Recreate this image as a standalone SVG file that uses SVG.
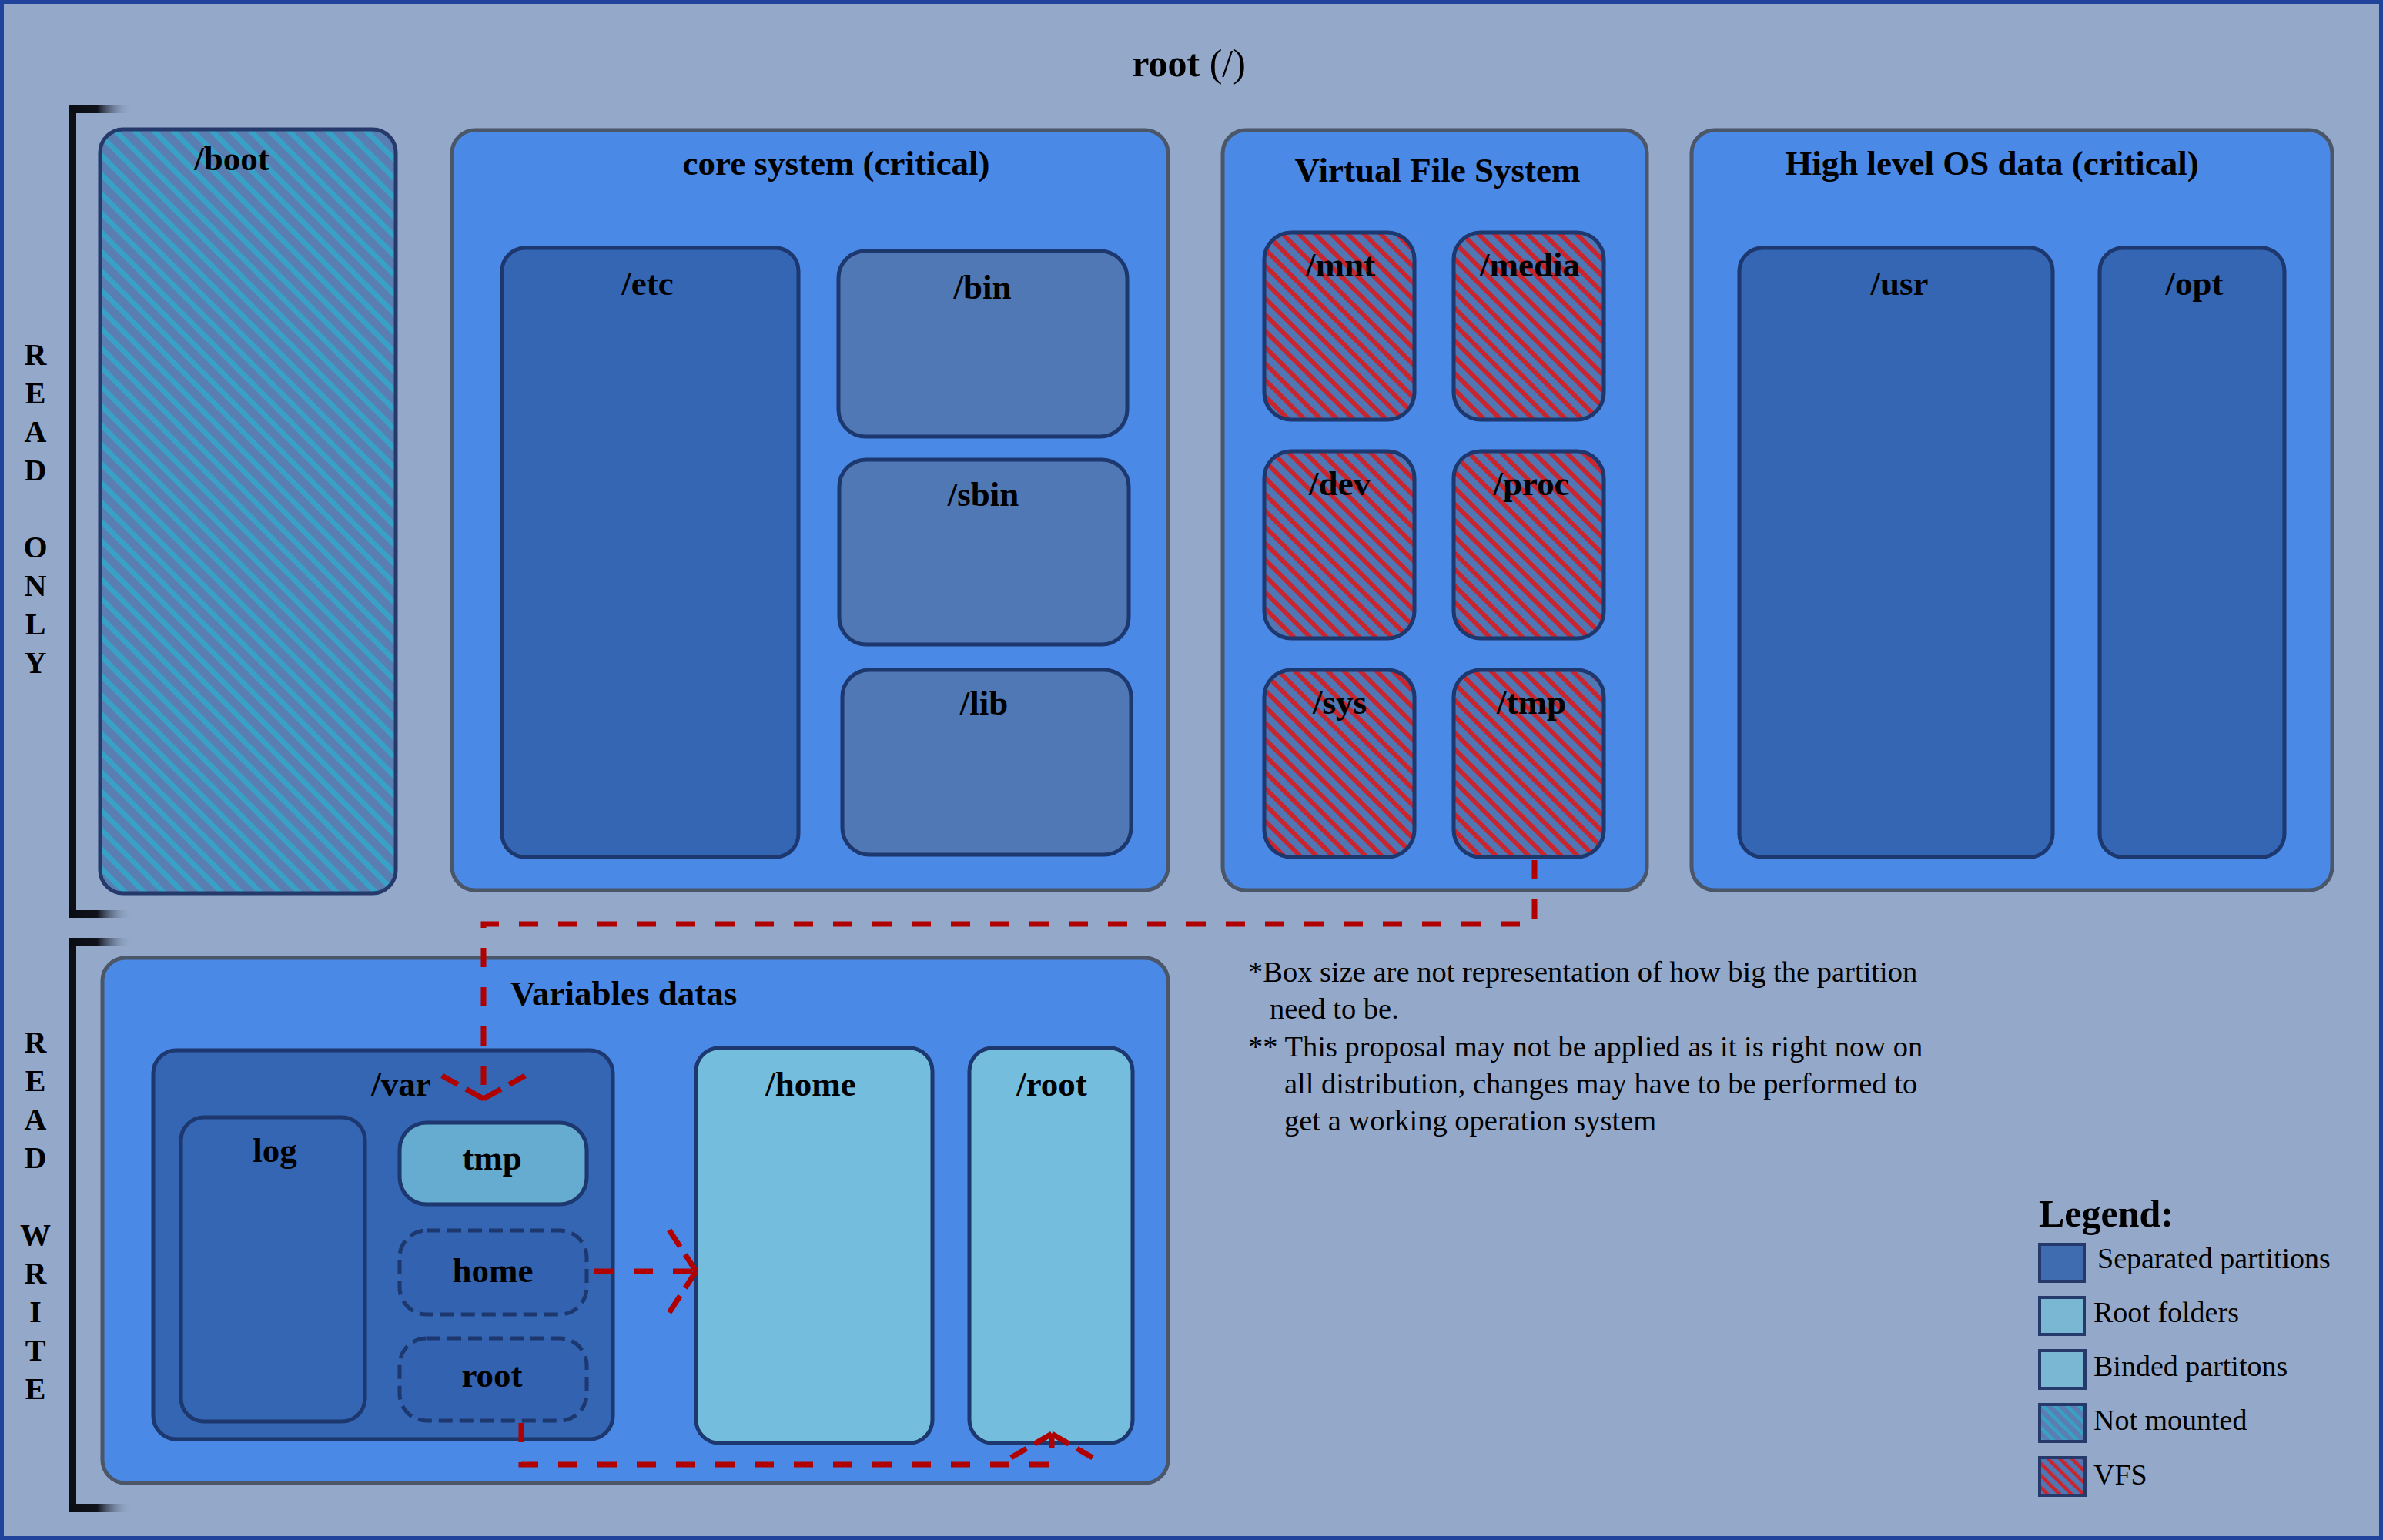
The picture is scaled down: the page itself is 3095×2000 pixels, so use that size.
<svg xmlns="http://www.w3.org/2000/svg" width="3095" height="2000" viewBox="0 0 3095 2000">
<defs>
<style>
.lbl{font-family:"Liberation Serif","Times New Roman",serif;font-weight:bold;font-size:45px;fill:#000;text-anchor:middle}
.note{font-family:"Liberation Serif","Times New Roman",serif;font-size:38.5px;fill:#000}
.leg{font-family:"Liberation Serif","Times New Roman",serif;font-size:38px;fill:#000}
.side{font-family:"Liberation Serif","Times New Roman",serif;font-weight:bold;font-size:40px;fill:#000;text-anchor:middle}
.group{fill:#4a89e6;stroke:#4b5668;stroke-width:5}
.part{fill:#3566b4;stroke:#1d376f;stroke-width:5}
.bin{fill:#5078b5;stroke:#1d376f;stroke-width:5}
.light{fill:#74bddd;stroke:#1d376f;stroke-width:5}
.vfs{fill:url(#vfsHatch);stroke:#1d376f;stroke-width:5}
.boot{fill:url(#bootHatch);stroke:#253a6a;stroke-width:5}
.bind{fill:#3363b0;stroke:#1d376f;stroke-width:5;stroke-dasharray:18 9}
.link{fill:none;stroke:#b00000;stroke-width:7;stroke-dasharray:25 26}
.wing{fill:none;stroke:#b00000;stroke-width:7;stroke-dasharray:26 12}
.sw{stroke:#253a6a;stroke-width:4}
</style>
<pattern id="vfsHatch" patternUnits="userSpaceOnUse" width="15" height="15" patternTransform="rotate(-45)">
<rect width="15" height="15" fill="#5077b4"/>
<rect width="6" height="15" fill="#c8252e"/>
</pattern>
<pattern id="bootHatch" patternUnits="userSpaceOnUse" width="17.7" height="17.7" patternTransform="rotate(-45)">
<rect width="17.7" height="17.7" fill="#5a7db2"/>
<rect width="7" height="17.7" fill="#38a1c5"/>
</pattern>
<pattern id="vfsHatchS" patternUnits="userSpaceOnUse" width="11" height="11" patternTransform="rotate(-45)">
<rect width="11" height="11" fill="#5077b4"/>
<rect width="4.5" height="11" fill="#c8252e"/>
</pattern>
<pattern id="bootHatchS" patternUnits="userSpaceOnUse" width="11" height="11" patternTransform="rotate(-45)">
<rect width="11" height="11" fill="#5a7db2"/>
<rect width="4.5" height="11" fill="#38a1c5"/>
</pattern>
<linearGradient id="fade" x1="0" y1="0" x2="1" y2="0">
<stop offset="0" stop-color="#0a0c12" stop-opacity="1"/>
<stop offset="0.45" stop-color="#10131c" stop-opacity="1"/>
<stop offset="1" stop-color="#94a9ca" stop-opacity="0"/>
</linearGradient>
</defs>

<rect id="background" x="0" y="0" width="3095" height="2000" fill="#94a9ca" stroke="#21439b" stroke-width="10"/>

<text id="title" x="1544" y="99" font-family="Liberation Serif, Times New Roman, serif" font-size="50" text-anchor="middle" fill="#000"><tspan font-weight="bold">root </tspan><tspan>(/)</tspan></text>

<g id="read-only">
<rect x="89" y="137" width="10" height="1055" fill="#0d0f15"/>
<rect x="89" y="137" width="83" height="10" fill="url(#fade)"/>
<rect x="89" y="1182" width="83" height="10" fill="url(#fade)"/>
<text class="side"><tspan x="46" y="474">R</tspan><tspan x="46" y="524">E</tspan><tspan x="46" y="574">A</tspan><tspan x="46" y="624">D</tspan><tspan x="46" y="724">O</tspan><tspan x="46" y="774">N</tspan><tspan x="46" y="824">L</tspan><tspan x="46" y="874">Y</tspan></text>
</g>

<g id="read-write">
<rect x="89" y="1218" width="10" height="745" fill="#0d0f15"/>
<rect x="89" y="1218" width="83" height="10" fill="url(#fade)"/>
<rect x="89" y="1953" width="83" height="10" fill="url(#fade)"/>
<text class="side"><tspan x="46" y="1367">R</tspan><tspan x="46" y="1417">E</tspan><tspan x="46" y="1467">A</tspan><tspan x="46" y="1517">D</tspan><tspan x="46" y="1617">W</tspan><tspan x="46" y="1667">R</tspan><tspan x="46" y="1717">I</tspan><tspan x="46" y="1767">T</tspan><tspan x="46" y="1817">E</tspan></text>
</g>

<g id="boot">
<rect class="boot" x="130" y="168" width="384" height="992" rx="30"/>
<text class="lbl" x="301" y="221">/boot</text>
</g>

<g id="core-system">
<rect class="group" x="587" y="169" width="930" height="987" rx="30"/>
<text class="lbl" x="1086" y="227">core system (critical)</text>
</g>
<g id="etc">
<rect class="part" x="652" y="322" width="385" height="791" rx="30"/>
<text class="lbl" x="841" y="383">/etc</text>
</g>
<g id="bin">
<rect class="bin" x="1089" y="326" width="375" height="241" rx="35"/>
<text class="lbl" x="1276" y="388">/bin</text>
</g>
<g id="sbin">
<rect class="bin" x="1090" y="597" width="376" height="240" rx="35"/>
<text class="lbl" x="1277" y="657">/sbin</text>
</g>
<g id="lib">
<rect class="bin" x="1094" y="870" width="375" height="240" rx="35"/>
<text class="lbl" x="1278" y="928">/lib</text>
</g>

<g id="vfs">
<rect class="group" x="1588" y="169" width="551" height="987" rx="30"/>
<text class="lbl" x="1867" y="236">Virtual File System</text>
</g>
<g id="mnt">
<rect class="vfs" x="1642" y="302" width="195" height="243" rx="35"/>
<text class="lbl" x="1741" y="359">/mnt</text>
</g>
<g id="media">
<rect class="vfs" x="1888" y="302" width="195" height="243" rx="35"/>
<text class="lbl" x="1987" y="359">/media</text>
</g>
<g id="dev">
<rect class="vfs" x="1642" y="586" width="195" height="243" rx="35"/>
<text class="lbl" x="1740" y="643">/dev</text>
</g>
<g id="proc">
<rect class="vfs" x="1888" y="586" width="195" height="243" rx="35"/>
<text class="lbl" x="1989" y="643">/proc</text>
</g>
<g id="sys">
<rect class="vfs" x="1642" y="870" width="195" height="243" rx="35"/>
<text class="lbl" x="1740" y="927">/sys</text>
</g>
<g id="tmp">
<rect class="vfs" x="1888" y="870" width="195" height="243" rx="35"/>
<text class="lbl" x="1989" y="927">/tmp</text>
</g>

<g id="high-level">
<rect class="group" x="2197" y="169" width="832" height="987" rx="30"/>
<text class="lbl" x="2587" y="227">High level OS data (critical)</text>
</g>
<g id="usr">
<rect class="part" x="2259" y="322" width="407" height="791" rx="30"/>
<text class="lbl" x="2467" y="383">/usr</text>
</g>
<g id="opt">
<rect class="part" x="2727" y="322" width="240" height="791" rx="30"/>
<text class="lbl" x="2850" y="383">/opt</text>
</g>

<g id="variables">
<rect class="group" x="133" y="1244" width="1384" height="682" rx="30"/>
<text class="lbl" x="810" y="1305">Variables datas</text>
</g>
<g id="var">
<rect class="part" x="199" y="1364" width="597" height="505" rx="30"/>
<text class="lbl" x="521" y="1423">/var</text>
</g>
<g id="var-log">
<rect class="part" x="235" y="1451" width="239" height="395" rx="30"/>
<text class="lbl" x="357" y="1509">log</text>
</g>
<g id="var-tmp">
<rect x="519" y="1458" width="243" height="106" rx="35" fill="#66abd0" stroke="#1d376f" stroke-width="5"/>
<text class="lbl" x="639" y="1519">tmp</text>
</g>
<g id="var-home">
<rect class="bind" x="519" y="1598" width="243" height="109" rx="35"/>
<text class="lbl" x="640" y="1665">home</text>
</g>
<g id="var-root">
<rect class="bind" x="519" y="1738" width="243" height="107" rx="35"/>
<text class="lbl" x="639" y="1801">root</text>
</g>
<g id="home">
<rect class="light" x="904" y="1361" width="307" height="513" rx="30"/>
<text class="lbl" x="1053" y="1423">/home</text>
</g>
<g id="root-home">
<rect class="light" x="1259" y="1361" width="212" height="513" rx="30"/>
<text class="lbl" x="1366" y="1423">/root</text>
</g>

<g id="connectors">
<path class="link" d="M1993,1117 V1200 H628 V1427"/>
<path class="wing" d="M628,1427 L574,1397 M628,1427 L682,1397"/>
<path class="link" d="M772,1651 H904"/>
<path class="wing" d="M904,1651 L869,1597 M904,1651 L869,1705"/>
<path class="link" d="M677,1848 V1902 H1366 V1862"/>
<path class="wing" d="M1366,1862 L1313,1893 M1366,1862 L1419,1893"/>
</g>

<g id="notes">
<text class="note" x="1621" y="1275">*Box size are not representation of how big the partition</text>
<text class="note" x="1649" y="1323">need to be.</text>
<text class="note" x="1621" y="1372">** This proposal may not be applied as it is right now on</text>
<text class="note" x="1668" y="1420">all distribution, changes may have to be performed to</text>
<text class="note" x="1668" y="1468">get a working operation system</text>
</g>

<g id="legend">
<text x="2648" y="1593" font-family="Liberation Serif, Times New Roman, serif" font-weight="bold" font-size="50" fill="#000">Legend:</text>
<rect class="sw" x="2649" y="1616" width="58" height="48" fill="#3f6bb1"/>
<text class="leg" x="2724" y="1647">Separated partitions</text>
<rect class="sw" x="2649" y="1685" width="58" height="48" fill="#7ab7d3"/>
<text class="leg" x="2719" y="1717">Root folders</text>
<rect class="sw" x="2649" y="1754" width="59" height="49" fill="#7ab7d3"/>
<text class="leg" x="2719" y="1787">Binded partitons</text>
<rect class="sw" x="2649" y="1824" width="59" height="48" fill="url(#bootHatchS)"/>
<text class="leg" x="2719" y="1857">Not mounted</text>
<rect class="sw" x="2649" y="1893" width="59" height="49" fill="url(#vfsHatchS)"/>
<text class="leg" x="2719" y="1928">VFS</text>
</g>
</svg>
